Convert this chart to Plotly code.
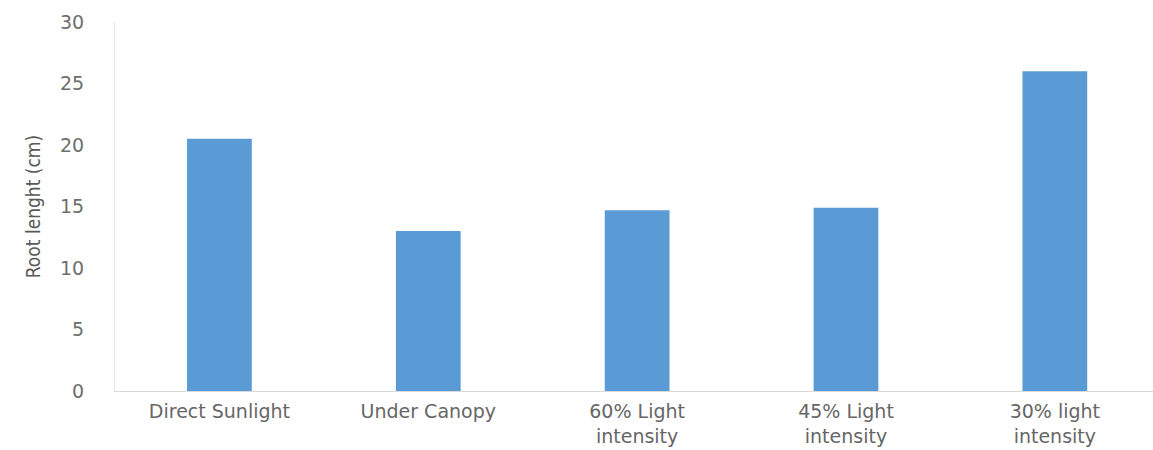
import plotly.graph_objects as go

categories = ["Direct Sunlight", "Under Canopy", "60% Light<br>intensity", "45% Light<br>intensity", "30% light<br>intensity"]
root_length = [20.5, 13.0, 14.7, 14.9, 26.0]
y_ticks = [0, 5, 10, 15, 20, 25, 30]

fig = go.Figure()
fig.add_trace(go.Bar(
    x=categories,
    y=root_length,
    marker=dict(color="#5b9bd5", line=dict(width=0)),
    width=0.31,
))

fig.update_layout(
    width=1153,
    height=450,
    margin=dict(l=115, r=0, t=22, b=59),
    paper_bgcolor="white",
    plot_bgcolor="white",
    showlegend=False,
    font=dict(family="DejaVu Sans", color="#595959"),
    xaxis=dict(
        type="category",
        range=[-0.5, 4.47],
        showgrid=False,
        showline=True,
        linecolor="#d9d9d9",
        linewidth=1,
        ticks="",
        tickfont=dict(family="DejaVu Sans", size=19, color="#666666"),
        ticklabelstandoff=3,
    ),
    yaxis=dict(
        range=[0, 30],
        tickvals=y_ticks,
        showgrid=False,
        zeroline=False,
        showline=True,
        linecolor="#dce6f2",
        linewidth=1,
        ticks="",
        tickfont=dict(family="DejaVu Sans", size=19, color="#6e6e6e"),
        ticklabelstandoff=26,
        title=dict(
            text="Root lenght (cm)",
            font=dict(family="DejaVu Sans Condensed, Liberation Sans Narrow, DejaVu Sans", size=19, color="#595959"),
            standoff=14,
        ),
    ),
)

fig.write_html("out.html")
